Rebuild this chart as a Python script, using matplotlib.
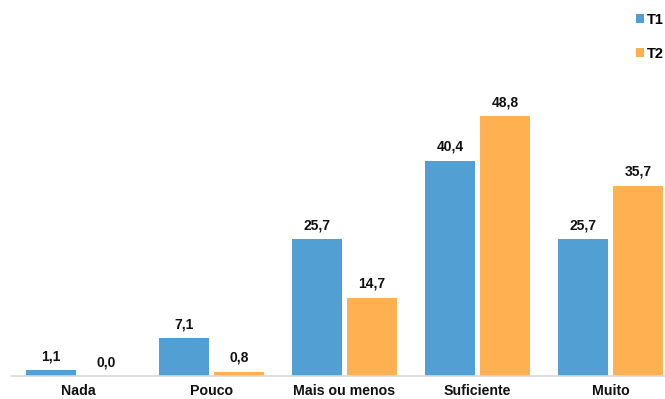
import matplotlib
matplotlib.use("Agg")
import matplotlib.pyplot as plt
import numpy as np

plt.rcParams['font.family'] = ['Liberation Sans', 'DejaVu Sans']

categories = ["Nada", "Pouco", "Mais ou menos", "Suficiente", "Muito"]
t1 = [1.1, 7.1, 25.7, 40.4, 25.7]
t2 = [0.0, 0.8, 14.7, 48.8, 35.7]
series_names = ["T1", "T2"]
colors = ["#519fd3", "#ffb152"]

fig = plt.figure(figsize=(6.65, 3.99), dpi=100)
ax = fig.add_axes([12 / 665, 23 / 399, 653 / 665, 293 / 399])

x = np.arange(len(categories))
width = 0.376
offset = 0.207

bars = []
for vals, off, col, name in zip([t1, t2], [-offset, offset], colors, series_names):
    b = ax.bar(x + off, vals, width, color=col, label=name)
    bars.append(b)
    for xi, v in zip(x + off, vals):
        ax.text(xi, v + 1.3, f"{v:.1f}".replace(".", ","), ha="center", va="bottom",
                fontsize=10, fontweight="bold", color="#111111")

ax.set_xlim(-0.5, 4.41)
ax.set_ylim(0, 55)
ax.set_xticks(x)
ax.set_xticklabels(categories, fontsize=10.2, fontweight="bold", color="#111111")
ax.tick_params(axis="x", length=0, pad=5.5)
ax.set_yticks([])
for s in ["top", "right", "left"]:
    ax.spines[s].set_visible(False)
ax.spines["bottom"].set_color("#d9d9d9")
ax.spines["bottom"].set_linewidth(1.2)

leg = fig.legend(handles=bars, labels=series_names, loc="upper right",
                 bbox_to_anchor=(664 / 665, 1 - 13 / 399), frameon=False,
                 prop={"size": 10.5, "weight": "bold"},
                 handlelength=0.55, handleheight=0.55, handletextpad=0.2,
                 labelspacing=1.35, borderpad=0, borderaxespad=0)

fig.savefig("out.png", dpi=100)
